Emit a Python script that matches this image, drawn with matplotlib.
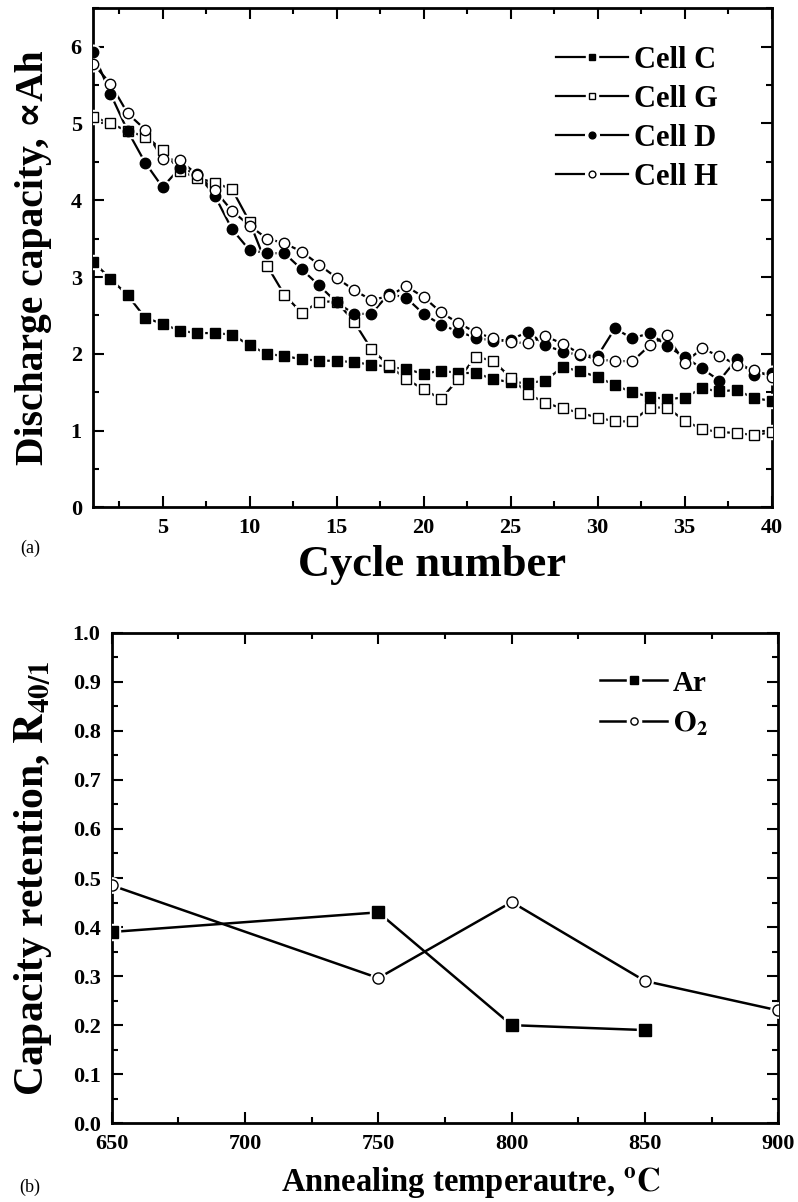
import matplotlib.pyplot as plt
from matplotlib.lines import Line2D
from matplotlib.legend_handler import HandlerTuple
from matplotlib.ticker import MultipleLocator

plt.rcParams['font.family'] = ['Liberation Serif', 'DejaVu Serif']
plt.rcParams['font.weight'] = 'bold'
plt.rcParams['axes.labelweight'] = 'bold'
plt.rcParams['mathtext.fontset'] = 'stix'

# (a) discharge capacity vs cycle
cycles = list(range(1, 41))
cell_c = [3.20, 2.98, 2.76, 2.47, 2.39, 2.30, 2.27, 2.27, 2.25, 2.11,
          2.00, 1.97, 1.93, 1.91, 1.91, 1.89, 1.86, 1.83, 1.80, 1.74,
          1.78, 1.75, 1.75, 1.67, 1.63, 1.62, 1.65, 1.83, 1.77, 1.70,
          1.59, 1.50, 1.44, 1.41, 1.43, 1.55, 1.51, 1.53, 1.42, 1.39]
cell_g = [5.09, 5.00, 4.90, 4.83, 4.66, 4.38, 4.29, 4.23, 4.14, 3.72,
          3.15, 2.77, 2.53, 2.68, 2.68, 2.42, 2.06, 1.85, 1.67, 1.54,
          1.41, 1.67, 1.96, 1.91, 1.69, 1.48, 1.36, 1.29, 1.23, 1.17,
          1.12, 1.12, 1.30, 1.30, 1.13, 1.02, 0.98, 0.97, 0.94, 0.98]
cell_d = [5.93, 5.39, 4.90, 4.49, 4.17, 4.42, 4.34, 4.06, 3.62, 3.35,
          3.31, 3.31, 3.10, 2.89, 2.67, 2.52, 2.52, 2.78, 2.73, 2.52,
          2.38, 2.29, 2.21, 2.17, 2.18, 2.29, 2.11, 2.03, 1.98, 1.97,
          2.33, 2.20, 2.27, 2.10, 1.96, 1.81, 1.65, 1.93, 1.73, 1.75]
cell_h = [5.78, 5.52, 5.13, 4.92, 4.54, 4.52, 4.33, 4.13, 3.86, 3.67,
          3.50, 3.44, 3.33, 3.16, 2.99, 2.83, 2.70, 2.75, 2.88, 2.74,
          2.54, 2.40, 2.28, 2.20, 2.15, 2.14, 2.23, 2.13, 2.00, 1.92,
          1.91, 1.90, 2.11, 2.24, 1.88, 2.07, 1.97, 1.86, 1.79, 1.70]

# (b) capacity retention vs annealing temperature
temps_ar = [650, 750, 800, 850]
ret_ar = [0.39, 0.43, 0.20, 0.19]
temps_o2 = [650, 750, 800, 850, 900]
ret_o2 = [0.485, 0.296, 0.451, 0.290, 0.230]


def series(ax, x, y, marker, filled, ms, lw=1.6):
    ax.plot(x, y, '-', color='black', lw=lw, zorder=2)
    ax.plot(x, y, ls='none', marker=marker, ms=ms + 3, mfc='white', mec='white', zorder=3)
    ax.plot(x, y, ls='none', marker=marker, ms=ms, mfc='black' if filled else 'white',
            mec='black', mew=1.0, zorder=4)
    line = Line2D([], [], color='black', lw=lw)
    halo = Line2D([], [], ls='none', marker=marker, ms=ms * 0.65 + 5, mfc='white', mec='white')
    mark = Line2D([], [], ls='none', marker=marker, ms=ms * 0.65,
                  mfc='black' if filled else 'white', mec='black', mew=1.0)
    return (line, halo, mark)


def style(ax):
    for s in ax.spines.values():
        s.set_linewidth(2)
    ax.tick_params(which='both', direction='in', top=True, right=True, width=1.5, labelsize=16)
    ax.tick_params(which='major', length=8, pad=8)
    ax.tick_params(which='minor', length=4)


fig = plt.figure(figsize=(7.98, 12.02), dpi=100)
ax1 = fig.add_axes([0.1165, 0.5779, 0.8503, 0.4152])
ax2 = fig.add_axes([0.14, 0.0655, 0.8353, 0.4081])

h_c = series(ax1, cycles, cell_c, 's', True, 6.5)
h_g = series(ax1, cycles, cell_g, 's', False, 6.5)
h_d = series(ax1, cycles, cell_d, 'o', True, 7.5)
h_h = series(ax1, cycles, cell_h, 'o', False, 7.5)

ax1.set_xlim(1, 40)
ax1.set_ylim(0, 6.5)
ax1.xaxis.set_major_locator(MultipleLocator(5))
ax1.xaxis.set_minor_locator(MultipleLocator(2.5))
ax1.yaxis.set_major_locator(MultipleLocator(1))
ax1.yaxis.set_minor_locator(MultipleLocator(0.5))
style(ax1)
ax1.set_xlabel('Cycle number', fontsize=32)
ax1.set_ylabel('Discharge capacity, ∝Ah', fontsize=28.5)
ax1.xaxis.set_label_coords(0.5, -0.076)
ax1.yaxis.set_label_coords(-0.06, 0.5)
ax1.legend([h_c, h_g, h_d, h_h], ['Cell C', 'Cell G', 'Cell D', 'Cell H'],
           handler_map={tuple: HandlerTuple(ndivide=1)}, frameon=False, fontsize=22,
           loc='upper left', bbox_to_anchor=(0.682, 0.925), borderpad=0, borderaxespad=0,
           handlelength=2.35, handletextpad=0.2, labelspacing=0.33)

h_ar = series(ax2, temps_ar, ret_ar, 's', True, 8, lw=1.8)
h_o2 = series(ax2, temps_o2, ret_o2, 'o', False, 8, lw=1.8)
ax2.set_xlim(650, 900)
ax2.set_ylim(0, 1.0)
ax2.xaxis.set_major_locator(MultipleLocator(50))
ax2.xaxis.set_minor_locator(MultipleLocator(25))
ax2.yaxis.set_major_locator(MultipleLocator(0.1))
ax2.yaxis.set_minor_locator(MultipleLocator(0.05))
ax2.yaxis.set_major_formatter(plt.FormatStrFormatter('%.1f'))
style(ax2)
ax2.set_xlabel(r'Annealing temperautre, $\mathbf{^{o}C}$', fontsize=23.5)
ax2.set_ylabel(r'Capacity retention, $\mathbf{R_{40/1}}$', fontsize=30)
ax2.xaxis.set_label_coords(0.539, -0.085)
ax2.yaxis.set_label_coords(-0.087, 0.5)
ax2.legend([h_ar, h_o2], ['Ar', r'$\mathbf{O_2}$'],
           handler_map={tuple: HandlerTuple(ndivide=1)}, frameon=False, fontsize=21,
           loc='upper left', bbox_to_anchor=(0.7325, 0.925), borderpad=0, borderaxespad=0,
           handlelength=2.3, handletextpad=0.2, labelspacing=0.45)

fig.text(30 / 798, 1 - 548 / 1202, '(a)', fontsize=13, fontweight='normal', ha='center', va='center')
fig.text(30 / 798, 1 - 1187 / 1202, '(b)', fontsize=13, fontweight='normal', ha='center', va='center')

fig.savefig('out.png', dpi=100)
